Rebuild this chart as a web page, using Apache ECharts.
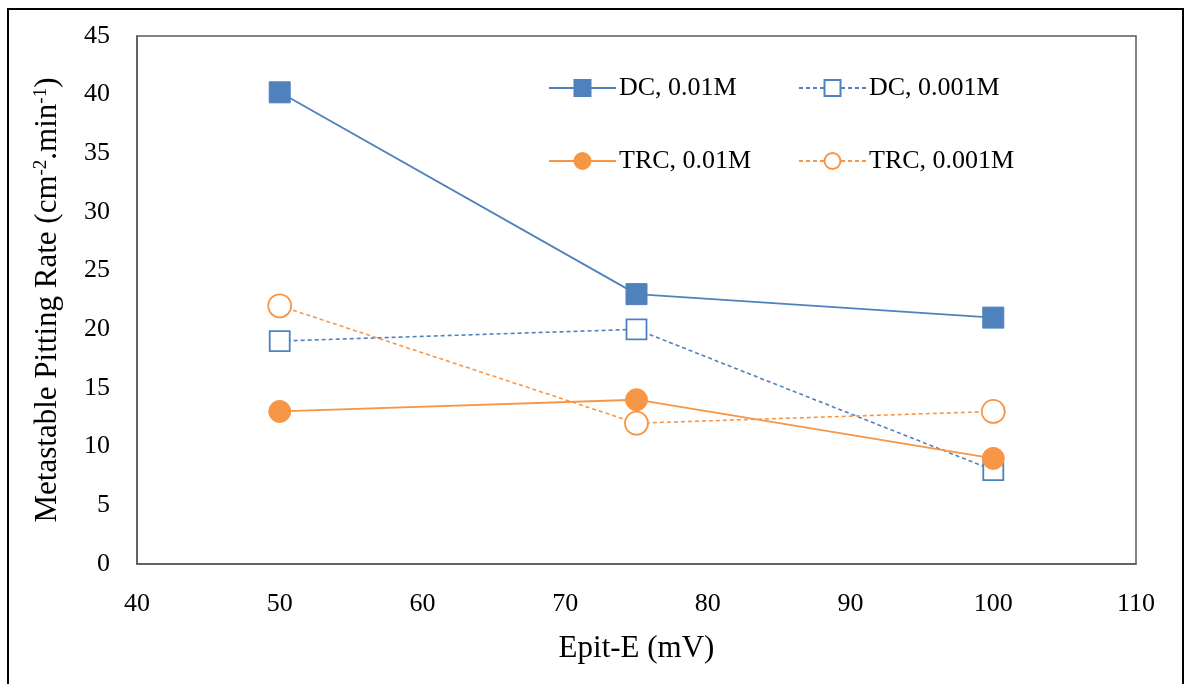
<!DOCTYPE html>
<html>
<head>
<meta charset="utf-8">
<script src="https://cdn.jsdelivr.net/npm/echarts@6/dist/echarts.min.js"></script>
<style>
  html, body { margin: 0; padding: 0; background: #fff; }
  #chart { width: 1189px; height: 684px; }
</style>
</head>
<body>
<div id="chart"></div>
<script>
// Potential difference Epit-E (mV)
const epitE = [50, 75, 100];

// Metastable pitting rate (cm^-2.min^-1)
const dc001 = [40.2, 23, 21];     // DC, 0.01M
const dc0001 = [19, 20, 8];       // DC, 0.001M
const trc001 = [13, 14, 9];       // TRC, 0.01M
const trc0001 = [22, 12, 13];     // TRC, 0.001M

const seriesNames = ['DC, 0.01M', 'DC, 0.001M', 'TRC, 0.01M', 'TRC, 0.001M'];

const BLUE = '#4F81BD';
const ORANGE = '#F79646';
const FONT = 'Liberation Serif';

const pairs = (ys) => epitE.map((x, i) => [x, ys[i]]);

function makeSeries(name, ys, color, symbol, size, filled) {
  return {
    name: name,
    type: 'line',
    data: pairs(ys),
    symbol: symbol,
    symbolSize: size,
    showSymbol: true,
    lineStyle: filled
      ? { color: color, width: 1.8, type: 'solid' }
      : { color: color, width: 1.6, type: [4, 3] },
    itemStyle: filled
      ? { color: color, borderColor: color, borderWidth: 1 }
      : { color: '#ffffff', borderColor: color, borderWidth: 1.8 },
    emphasis: { disabled: true },
    z: filled ? 3 : 2
  };
}

function legendAt(name, left, top) {
  return {
    data: [name],
    left: left,
    top: top,
    orient: 'horizontal',
    itemWidth: 67,
    itemHeight: 20,
    itemGap: 0,
    selectedMode: false,
    textStyle: { fontFamily: FONT, fontSize: 26, color: '#000', padding: [0, 0, 0, -2] }
  };
}

const chart = echarts.init(document.getElementById('chart'), null, { renderer: 'canvas' });

chart.setOption({
  backgroundColor: '#ffffff',
  animation: false,
  textStyle: { fontFamily: FONT },
  grid: { left: 137, right: 53, top: 36, bottom: 120, show: true, borderColor: '#595959', borderWidth: 1.5, containLabel: false },
  legend: [
    legendAt(seriesNames[0], 543, 70),
    legendAt(seriesNames[1], 793, 70),
    legendAt(seriesNames[2], 543, 143),
    legendAt(seriesNames[3], 793, 143)
  ],
  xAxis: {
    type: 'value',
    min: 40,
    max: 110,
    interval: 10,
    name: 'Epit-E (mV)',
    nameLocation: 'middle',
    nameGap: 69,
    nameTextStyle: { fontFamily: FONT, fontSize: 31, color: '#000' },
    axisLine: { show: true, lineStyle: { color: '#595959', width: 1.5 } },
    axisTick: { show: false },
    splitLine: { show: false },
    axisLabel: { fontFamily: FONT, fontSize: 26, color: '#000', margin: 27 }
  },
  yAxis: {
    type: 'value',
    min: 0,
    max: 45,
    interval: 5,
    name: 'Metastable Pitting Rate (cm{sup|-2}.min{sup|-1})',
    nameLocation: 'middle',
    nameGap: 73,
    nameRotate: 90,
    nameTextStyle: {
      fontFamily: FONT, fontSize: 31, color: '#000',
      rich: {
        sup: { fontFamily: FONT, fontSize: 19, color: '#000', verticalAlign: 'top', padding: [0, 0, 13, 0] }
      }
    },
    axisLine: { show: true, lineStyle: { color: '#595959', width: 1.5 } },
    axisTick: { show: false },
    splitLine: { show: false },
    axisLabel: { fontFamily: FONT, fontSize: 26, color: '#000', margin: 27 }
  },
  graphic: [
    {
      type: 'polyline',
      shape: { points: [[8, 700], [8, 9], [1183, 9], [1183, 700]] },
      style: { stroke: '#000', lineWidth: 2, fill: null },
      silent: true
    }
  ],
  series: [
    makeSeries(seriesNames[0], dc001, BLUE, 'rect', 21, true),
    makeSeries(seriesNames[1], dc0001, BLUE, 'rect', 20, false),
    makeSeries(seriesNames[2], trc001, ORANGE, 'circle', 22, true),
    makeSeries(seriesNames[3], trc0001, ORANGE, 'circle', 23, false)
  ]
});
</script>
</body>
</html>
